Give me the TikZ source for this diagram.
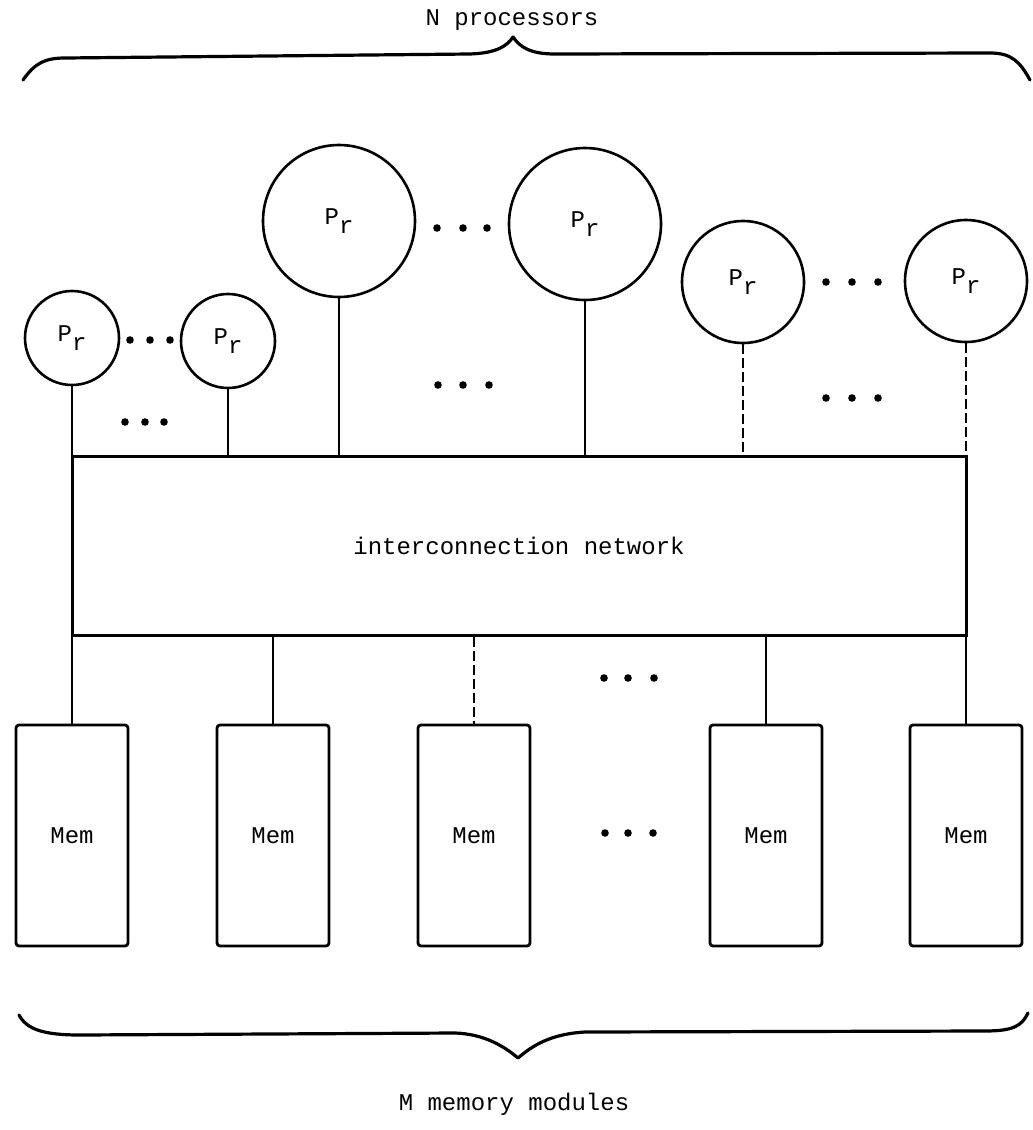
\documentclass[tikz,border=0pt]{standalone}
\usepackage{fontspec}
\setmonofont{Liberation Mono}
\begin{document}
\begin{tikzpicture}[x=0.5pt, y=-0.5pt,
  txt/.style={font=\ttfamily\fontsize{12}{14}\selectfont},
  proc/.style={circle, draw, line width=1.3pt, inner sep=0pt, txt},
  memory/.style={draw, line width=1.4pt, rounded corners=1.5pt, minimum width=56pt,
                 minimum height=110.5pt, inner sep=0pt, txt},
  netbox/.style={draw, line width=1.5pt, minimum width=447pt, minimum height=89.5pt,
                 inner sep=0pt, txt},
  wire/.style={line width=1.3pt},
  faint/.style={line width=0.9pt, dash pattern=on 5pt off 2pt},
  brace/.style={line width=1.6pt, line join=round, line cap=round}]
\useasboundingbox (0,0) rectangle (1033,1130);
\def\Pr{P\raisebox{-0.7ex}{r}}

% processors
\node[proc, minimum size=47pt] (c1) at (72,338) {\Pr};
\node[proc, minimum size=47pt] (c2) at (228,341) {\Pr};
\node[proc, minimum size=76pt] (b1) at (339,221) {\Pr};
\node[proc, minimum size=76pt] (b2) at (585,224) {\Pr};
\node[proc, minimum size=61pt] (m1) at (743,282) {\Pr};
\node[proc, minimum size=61pt] (m2) at (966,281) {\Pr};

% interconnection network
\node[netbox] (net) at (519,545.5) {interconnection network};

% memory modules
\node[memory] (mem1) at (72,835.5) {Mem};
\node[memory] (mem2) at (273,835.5) {Mem};
\node[memory] (mem3) at (474,835.5) {Mem};
\node[memory] (mem4) at (766,835.5) {Mem};
\node[memory] (mem5) at (966,835.5) {Mem};

% processor links
\draw[wire] (c1.south) -- (c1.south |- net.north);
\draw[wire] (c2.south) -- (c2.south |- net.north);
\draw[wire] (b1.south) -- (b1.south |- net.north);
\draw[wire] (b2.south) -- (b2.south |- net.north);
\draw[faint] (m1.south) -- (m1.south |- net.north);
\draw[faint] (m2.south) -- (m2.south |- net.north);

% memory links
\draw[wire] (net.south -| mem1.north) -- (mem1.north);
\draw[wire] (net.south -| mem2.north) -- (mem2.north);
\draw[faint] (net.south -| mem3.north) -- (mem3.north);
\draw[wire] (net.south -| mem4.north) -- (mem4.north);
\draw[wire] (net.south -| mem5.north) -- (mem5.north);

% ellipses
\foreach \x/\y in {130/340,150/340,170/340, 125/422,145/422,164/422,
                   437/228,463/228,487/228, 438/385,463/385,489/385,
                   826/282,852/282,878/282, 826/398,852/398,878/398,
                   604/678,628/678,654/678, 605/833,628/833,653/833}
  \fill (\x,\y) circle (1.9pt);

% braces
\draw[brace] (23,80) .. controls (35,63) and (45,58) .. (65,58)
  -- (470,54) .. controls (497,53) and (507,46) .. (513,37)
  .. controls (520,47) and (530,54) .. (555,54)
  -- (990,53) .. controls (1012,53) and (1020,62) .. (1030,80);
\node[txt] (ntext) at (512,20) {N processors};

\draw[brace] (19,1015) .. controls (27,1030) and (45,1035) .. (80,1035)
  -- (455,1033) .. controls (485,1034) and (505,1047) .. (518,1058)
  .. controls (532,1046) and (550,1034) .. (585,1032)
  -- (985,1031) .. controls (1015,1031) and (1022,1025) .. (1028,1013);
\node[txt] (mtext) at (514,1104) {M memory modules};
\end{tikzpicture}
\end{document}
